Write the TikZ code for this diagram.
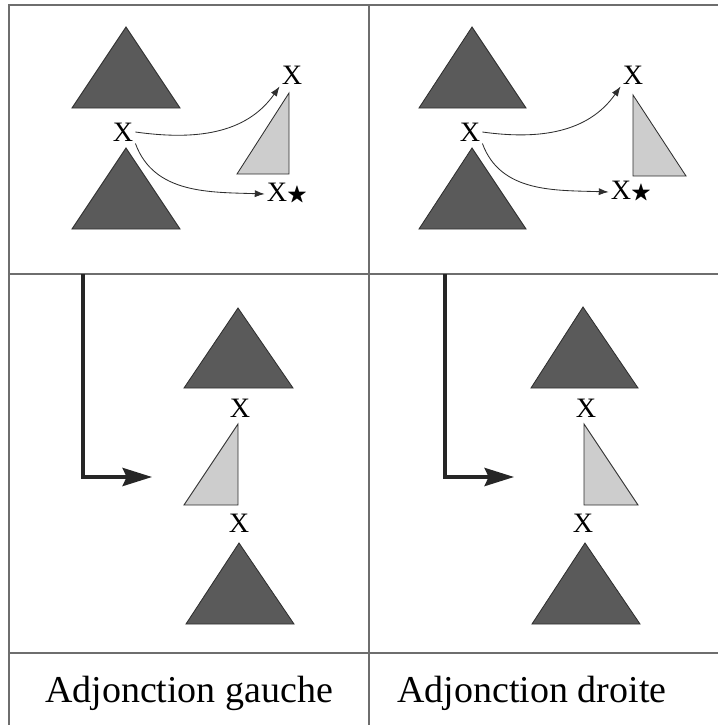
\documentclass[tikz,border=0pt]{standalone}
\usepackage{amssymb}
\usepackage{fontspec}
\setmainfont{Liberation Serif}
\usetikzlibrary{arrows.meta}
\definecolor{tridark}{HTML}{5A5A5A}
\definecolor{trilight}{HTML}{CDCDCD}
\definecolor{edge}{HTML}{2E2E2E}
\definecolor{rulegray}{HTML}{6E6E6E}
\newcommand{\xstar}{X\raisebox{0.8pt}{\fontsize{15}{17}\selectfont$\bigstar$}}
\tikzset{
  dk/.style={fill=tridark, draw=edge, line width=0.6pt},
  lt/.style={fill=trilight, draw=edge, line width=0.6pt},
  lbl/.style={font=\fontsize{20}{24}\selectfont, inner sep=1.4pt},
  capt/.style={font=\fontsize{27}{32}\selectfont, anchor=base, inner sep=0pt},
  tab/.style={draw=rulegray, line width=0.8pt},
  a/.style={-{Latex[length=7pt, width=5pt]}, draw=edge, line width=0.6pt},
  ab/.style={-{Stealth[length=21pt, width=13pt, inset=3pt]}, draw=black!85, line width=2.2pt},
}

\begin{document}
\begin{tikzpicture}[x=0.025cm, y=-0.025cm]
\useasboundingbox (0,0) rectangle (718,725);

% table
\draw[tab] (718,5) -- (9,5) -- (9,725);
\draw[tab] (369,5) -- (369,725);
\draw[tab] (9,274) -- (718,274);
\draw[tab] (9,653) -- (718,653);

% top left: before left adjunction
\draw[dk] (72,108) -- (126,27) -- (180,108) -- cycle;
\draw[dk] (72,229) -- (126,148) -- (180,229) -- cycle;
\draw[lt] (237,174) -- (289,174) -- (289,93) -- cycle;
\node[lbl] (xg)  at (123,132) {X};
\node[lbl] (xgt) at (292,75)  {X};
\node[lbl] (xgs) at (287,194) {\xstar};
\draw[a] (xg.east) to[out=-8, in=-125] (xgt.south west);
\draw[a] (xg.south east) to[out=-70, in=178] (xgs.west);

% top right: before right adjunction
\draw[dk] (419,108) -- (472,27) -- (526,108) -- cycle;
\draw[dk] (419,229) -- (472,148) -- (526,229) -- cycle;
\draw[lt] (633,95) -- (633,176) -- (686,176) -- cycle;
\node[lbl] (xd)  at (470,132) {X};
\node[lbl] (xdt) at (633,75)  {X};
\node[lbl] (xds) at (631,192) {\xstar};
\draw[a] (xd.east) to[out=-8, in=-125] (xdt.south west);
\draw[a] (xd.south east) to[out=-70, in=178] (xds.west);

% bottom left: result
\coordinate (ga) at (83,274);
\coordinate (gb) at (152,477);
\draw[ab] (ga) |- (gb);
\draw[dk] (184,388) -- (238,308) -- (293,388) -- cycle;
\node[lbl] (rg1) at (240,408) {X};
\draw[lt] (238,424) -- (238,505) -- (184,505) -- cycle;
\node[lbl] (rg2) at (239,523) {X};
\draw[dk] (186,624) -- (239,543) -- (294,624) -- cycle;

% bottom right: result
\coordinate (da) at (445,274);
\coordinate (db) at (514,477);
\draw[ab] (da) |- (db);
\draw[dk] (531,388) -- (583,307) -- (638,388) -- cycle;
\node[lbl] (rd1) at (586,408) {X};
\draw[lt] (584,424) -- (584,505) -- (638,505) -- cycle;
\node[lbl] (rd2) at (583,523) {X};
\draw[dk] (532,624) -- (585,543) -- (640,624) -- cycle;

% captions
\node[capt] (cg) at (189,702) {Adjonction gauche};
\node[capt] (cd) at (532,702) {Adjonction droite};
\end{tikzpicture}
\end{document}
